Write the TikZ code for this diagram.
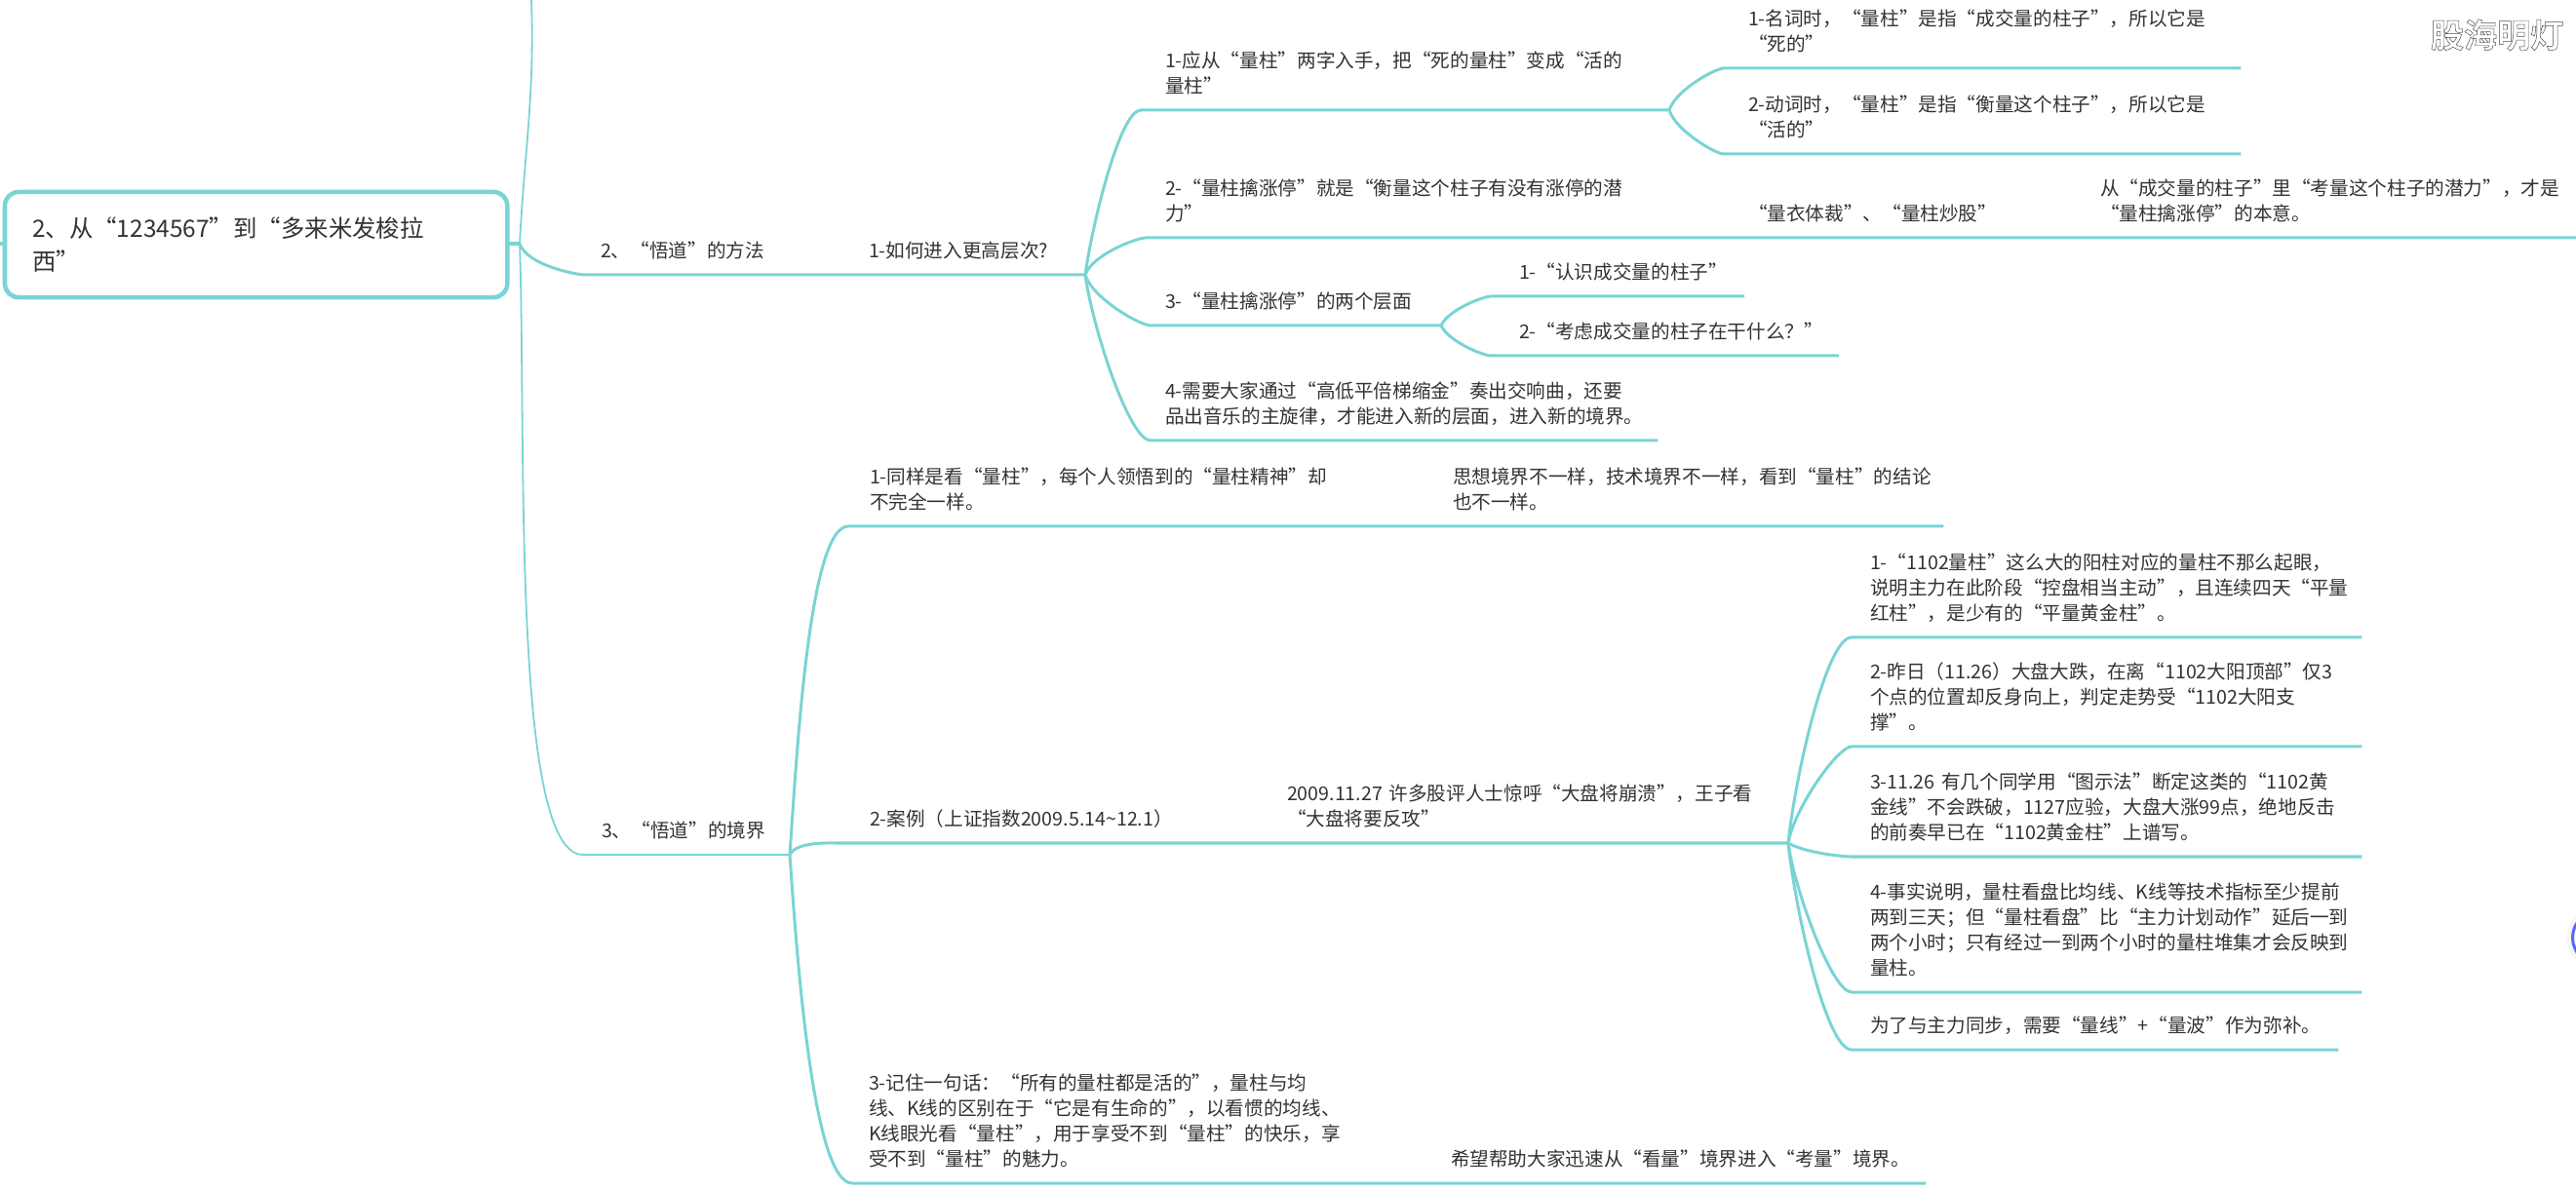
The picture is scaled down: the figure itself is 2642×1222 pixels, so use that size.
\documentclass[tikz,border=0pt]{standalone}
\usepackage{fontspec}
\setmainfont{Noto Sans CJK SC}
\newfontfamily\markfont[UprightFont = * Bold, FakeBold = 1.4]{Noto Sans CJK SC}
\usetikzlibrary{positioning}
\definecolor{mteal}{RGB}{122, 212, 212}
\definecolor{mtext}{RGB}{51, 51, 51}
\definecolor{mblue}{RGB}{92, 100, 250}
\tikzset{topic/.style 2 args = {anchor = south west, align = left, inner xsep = #2cm, inner ysep = 0.142cm, outer sep = 0, text width = {(#1 - 2*#2)*1cm}, text = mtext, font = \fontsize{5.58pt}{7.4pt}\selectfont, execute at begin node = {\exhyphenpenalty=10000 \hyphenpenalty=10000 }, execute at end node = {\vrule depth 0.8pt height 0pt width 0pt}}}
\tikzset{conn/.style = {mteal, line width = 0.03cm}}
\tikzset{fork/.style = {out = #1, in = 180, out looseness = 0.8, in looseness = 0.3}}
\begin{document}
\begin{tikzpicture}[x=0.01cm, y=-0.01cm]
  \useasboundingbox (0, 0) rectangle (2642, 1222);

  \node [draw = mteal, line width = 0.045cm, rounded corners = 0.14cm, anchor = north west, minimum width = 5.15cm, minimum height = 1.08cm, align = left, inner xsep = 0.28cm, inner ysep = 0, outer sep = 0, text width = 4.59cm, text = mtext, font = \fontsize{6.95pt}{9.9pt}\selectfont] (rootBox) at (5, 197) {2、从“1234567”到“多来米发梭拉\\西”};
  \coordinate (rootIn) at (0, 250);
  \coordinate (rootFork) at (533, 250);
  \coordinate (rootTop) at (545, 0);

  % method branch
  \node [topic = {2.15}{0.16}] (method) at (600, 282) {2、“悟道”的方法};
  \node [topic = {2.30}{0.21}] (howTo) at (870, 282) {1-如何进入更高层次?};
  \coordinate (howFork) at (1113, 282);

  \node [topic = {5.27}{0.25}] (fromBar) at (1170, 113) {1-应从“量柱”两字入手，把“死的量柱”变成“活的\\量柱”};
  \coordinate (barFork) at (1712, 113);
  \node [topic = {5.30}{0.25}] (noun) at (1768, 70) {1-名词时，“量柱”是指“成交量的柱子”，所以它是\\“死的”};
  \node [topic = {5.30}{0.25}] (verb) at (1768, 158) {2-动词时，“量柱”是指“衡量这个柱子”，所以它是\\“活的”};

  \node [topic = {5.27}{0.20}] (measure) at (1175, 244) {2-“量柱擒涨停”就是“衡量这个柱子有没有涨停的潜\\力”};
  \node [topic = {3.67}{0.81}] (tailor) at (1712, 244) {“量衣体裁”、“量柱炒股”};
  \node [topic = {5.63}{0.75}] (intent) at (2079, 244) {从“成交量的柱子”里“考量这个柱子的潜力”，才是\\“量柱擒涨停”的本意。};

  \node [topic = {2.98}{0.15}] (levels) at (1180, 334) {3-“量柱擒涨停”的两个层面};
  \coordinate (levelFork) at (1478, 334);
  \node [topic = {2.60}{0.29}] (know) at (1529, 304) {1-“认识成交量的柱子”};
  \node [topic = {3.57}{0.29}] (think) at (1529, 365) {2-“考虑成交量的柱子在干什么？”};

  \node [topic = {5.20}{0.15}] (music) at (1180, 452) {4-需要大家通过“高低平倍梯缩金”奏出交响曲，还要\\品出音乐的主旋律，才能进入新的层面，进入新的境界。};

  % realm branch
  \node [topic = {2.12}{0.19}] (realm) at (598, 877) {3、“悟道”的境界};
  \coordinate (realmFork) at (810, 877);

  \node [topic = {5.27}{0.22}] (same) at (870, 540) {1-同样是看“量柱”，每个人领悟到的“量柱精神”却\\不完全一样。};
  \node [topic = {5.96}{0.93}] (differ) at (1397, 540) {思想境界不一样，技术境界不一样，看到“量柱”的结论\\也不一样。};

  \node [topic = {3.69}{0.36}] (sample) at (856, 865) {2-案例（上证指数2009.5.14\textasciitilde 12.1）};
  \node [topic = {5.98}{0.95}] (crowd) at (1225, 865) {2009.11.27~许多股评人士惊呼“大盘将崩溃”，王子看\\“大盘将要反攻”};
  \coordinate (crowdFork) at (1834, 865);

  \node [topic = {5.23}{0.19}] (caseA) at (1899, 654) {1-“1102量柱”这么大的阳柱对应的量柱不那么起眼，\\说明主力在此阶段“控盘相当主动”，且连续四天“平量\\红柱”，是少有的“平量黄金柱”。};
  \node [topic = {5.23}{0.19}] (caseB) at (1899, 766) {2-昨日（11.26）大盘大跌，在离“1102大阳顶部”仅3\\个点的位置却反身向上，判定走势受“1102大阳支\\撑”。};
  \node [topic = {5.23}{0.19}] (caseC) at (1899, 879) {3-11.26~有几个同学用“图示法”断定这类的“1102黄\\金线”不会跌破，1127应验，大盘大涨99点，绝地反击\\的前奏早已在“1102黄金柱”上谱写。};
  \node [topic = {5.23}{0.19}] (caseD) at (1899, 1018) {4-事实说明，量柱看盘比均线、K线等技术指标至少提前\\两到三天；但“量柱看盘”比“主力计划动作”延后一到\\两个小时；只有经过一到两个小时的量柱堆集才会反映到\\量柱。};
  \node [topic = {4.99}{0.19}] (caseE) at (1899, 1077) {为了与主力同步，需要“量线”+“量波”作为弥补。};

  \node [topic = {5.21}{0.17}] (remember) at (874, 1214) {3-记住一句话：“所有的量柱都是活的”，量柱与均\\线、K线的区别在于“它是有生命的”，以看惯的均线、\\K线眼光看“量柱”，用于享受不到“量柱”的快乐，享\\受不到“量柱”的魅力。};
  \node [topic = {5.80}{0.93}] (hope) at (1395, 1214) {希望帮助大家迅速从“看量”境界进入“考量”境界。};

  % connectors
  \draw [conn, line width = 0.045cm] (rootIn) -- (rootBox.west |- rootIn);
  \draw [conn, line width = 0.045cm] (rootBox.east |- rootFork) -- (rootFork);
  \draw [conn, line width = 0.018cm] (rootFork) to [out = 87, in = -88] (rootTop);
  \draw [conn] (rootFork) to [fork = -72] (method.south west) -- (method.south east) -- (howTo.south east) -- (howFork);
  \draw [conn, line width = 0.018cm] (rootFork) to [fork = -88] (realm.south west) -- (realm.south east) -- (realmFork);

  \draw [conn] (howFork) to [fork = 82] (fromBar.south west) -- (fromBar.south east) -- (barFork);
  \draw [conn] (barFork) to [fork = 72] (noun.south west) -- (noun.south east);
  \draw [conn] (barFork) to [fork = -72] (verb.south west) -- (verb.south east);
  \draw [conn] (howFork) to [fork = 70] (measure.south west) -- (measure.south east) -- (tailor.south west) -- (tailor.south east) -- (intent.south east);
  \draw [conn] (howFork) to [fork = -72] (levels.south west) -- (levels.south east) -- (levelFork);
  \draw [conn] (levelFork) to [fork = 65] (know.south west) -- (know.south east);
  \draw [conn] (levelFork) to [fork = -65] (think.south west) -- (think.south east);
  \draw [conn] (howFork) to [fork = -82] (music.south west) -- (music.south east);

  \draw [conn] (realmFork) to [fork = 86] (same.south west) -- (same.south east) -- (differ.south east);
  \draw [conn] (realmFork) to [fork = 65] (sample.south west) -- (sample.south east) -- (crowd.south east) -- (crowdFork);
  \draw [conn] (realmFork) to [fork = -86] (remember.south west) -- (remember.south east) -- (hope.south east);

  \draw [conn] (crowdFork) to [fork = 84] (caseA.south west) -- (caseA.south east);
  \draw [conn] (crowdFork) to [fork = 80] (caseB.south west) -- (caseB.south east);
  \draw [conn] (crowdFork) to [fork = -30] (caseC.south west) -- (caseC.south east);
  \draw [conn] (crowdFork) to [fork = -82] (caseD.south west) -- (caseD.south east);
  \draw [conn] (crowdFork) to [fork = -84] (caseE.south west) -- (caseE.south east);

  % page marks
  \node [anchor = east, inner sep = 0, text = white, font = \markfont\fontsize{9.7pt}{9.7pt}\selectfont] (stamp) at (2630, 36) {\special{pdf:code 0.3 0.3 0.3 RG}股海明灯};
  \node [circle, fill = black!4, minimum size = 0.66cm, inner sep = 0] (halo) at (2666, 962) {};
  \node [circle, draw = mblue, fill = white, line width = 0.03cm, minimum size = 0.55cm, inner sep = 0] (helper) at (2666, 962) {};
\end{tikzpicture}
\end{document}
